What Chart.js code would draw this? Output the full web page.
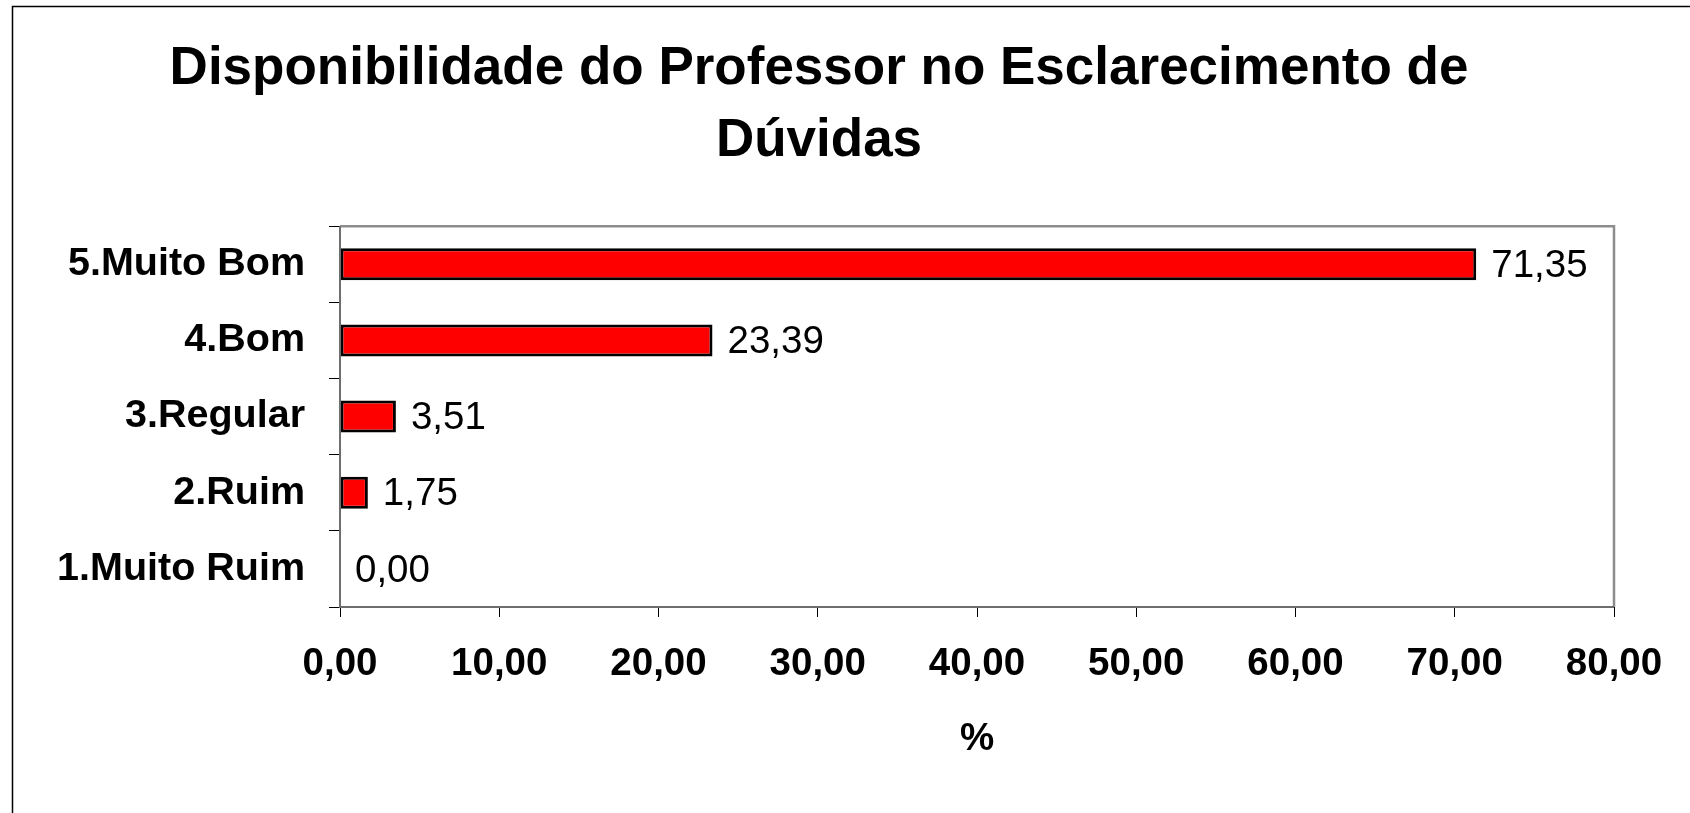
<!DOCTYPE html>
<html>
<head>
<meta charset="utf-8">
<script src="https://cdn.jsdelivr.net/npm/chart.js@4/dist/chart.umd.min.js"></script>
<style>
  html, body { margin: 0; padding: 0; background: #fff; }
  #wrap { width: 1690px; height: 813px; }
</style>
</head>
<body>
<div id="wrap"><canvas id="c" width="1690" height="813"></canvas></div>
<script>
const titleLines = ['Disponibilidade do Professor no Esclarecimento de', 'Dúvidas'];
const categories = ['5.Muito Bom', '4.Bom', '3.Regular', '2.Ruim', '1.Muito Ruim'];
const percentValues = [71.35, 23.39, 3.51, 1.75, 0.00];
const xTickValues = [0, 10, 20, 30, 40, 50, 60, 70, 80];
const xAxisTitle = '%';

const FONT = '"Liberation Sans", Arial, Helvetica, sans-serif';
const fmt = v => Number(v).toFixed(2).replace('.', ',');

const framePlugin = {
  id: 'frame',
  beforeDraw(chart) {
    const ctx = chart.ctx;
    ctx.save();
    ctx.fillStyle = '#fff';
    ctx.fillRect(0, 0, chart.width, chart.height);
    ctx.strokeStyle = '#000';
    ctx.lineWidth = 1.5;
    ctx.beginPath();
    ctx.moveTo(12.5, chart.height + 5);
    ctx.lineTo(12.5, 6.5);
    ctx.lineTo(chart.width + 5, 6.5);
    ctx.stroke();
    ctx.restore();
  },
  afterDraw(chart) {
    const a = chart.chartArea;
    const ctx = chart.ctx;
    ctx.save();
    ctx.strokeStyle = '#8c8c8c';
    ctx.lineWidth = 2.5;
    ctx.beginPath();
    ctx.moveTo(a.left, a.top);
    ctx.lineTo(a.right, a.top);
    ctx.lineTo(a.right, a.bottom);
    ctx.stroke();
    ctx.strokeStyle = '#6e6e6e';
    ctx.lineWidth = 2;
    ctx.beginPath();
    ctx.moveTo(a.left, a.top);
    ctx.lineTo(a.left, a.bottom);
    ctx.lineTo(a.right, a.bottom);
    ctx.stroke();
    ctx.restore();
  }
};

const labelPlugin = {
  id: 'valueLabels',
  afterDatasetsDraw(chart) {
    const ctx = chart.ctx;
    const meta = chart.getDatasetMeta(0);
    ctx.save();
    ctx.font = '38.5px ' + FONT;
    ctx.fillStyle = '#000';
    ctx.textAlign = 'left';
    ctx.textBaseline = 'middle';
    meta.data.forEach((bar, i) => {
      ctx.fillText(fmt(percentValues[i]), bar.x + 15, bar.y + 2);
    });
    ctx.restore();
  }
};

new Chart(document.getElementById('c'), {
  type: 'bar',
  data: {
    labels: categories,
    datasets: [{
      data: percentValues,
      backgroundColor: '#ff0000',
      borderColor: '#000000',
      borderWidth: 3,
      borderSkipped: false,
      categoryPercentage: 1.0,
      barPercentage: 0.42
    }]
  },
  options: {
    indexAxis: 'y',
    responsive: false,
    animation: false,
    devicePixelRatio: 1,
    layout: { padding: { left: 24, right: 76, top: 0, bottom: 0 } },
    plugins: {
      legend: { display: false },
      tooltip: { enabled: false },
      title: {
        display: true,
        text: titleLines,
        color: '#000',
        font: { family: FONT, size: 53, weight: 'bold', lineHeight: 1.36 },
        padding: { top: 33, bottom: 49 }
      }
    },
    scales: {
      x: {
        type: 'linear',
        min: 0,
        max: 80,
        afterBuildTicks(scale) { scale.ticks = xTickValues.map(v => ({ value: v })); },
        afterFit(scale) { scale.height = 206; },
        border: { display: false },
        grid: { drawOnChartArea: false, drawTicks: true, tickLength: 10, color: '#000', lineWidth: 1 },
        ticks: {
          color: '#000',
          padding: 24,
          maxRotation: 0,
          autoSkip: false,
          font: { family: FONT, size: 38.5, weight: 'bold' },
          callback: v => fmt(v)
        },
        title: {
          display: true,
          text: xAxisTitle,
          color: '#000',
          font: { family: FONT, size: 38.5, weight: 'bold', lineHeight: 1.2 },
          padding: { top: 0, bottom: 51 }
        }
      },
      y: {
        type: 'category',
        afterFit(scale) { scale.width = 316; },
        border: { display: false },
        grid: { drawOnChartArea: false, drawTicks: true, tickLength: 11, color: '#000', lineWidth: 1, offset: true },
        ticks: {
          color: '#000',
          padding: 24,
          autoSkip: false,
          font: { family: FONT, size: 39.5, weight: 'bold' }
        }
      }
    }
  },
  plugins: [framePlugin, labelPlugin]
});
</script>
</body>
</html>
